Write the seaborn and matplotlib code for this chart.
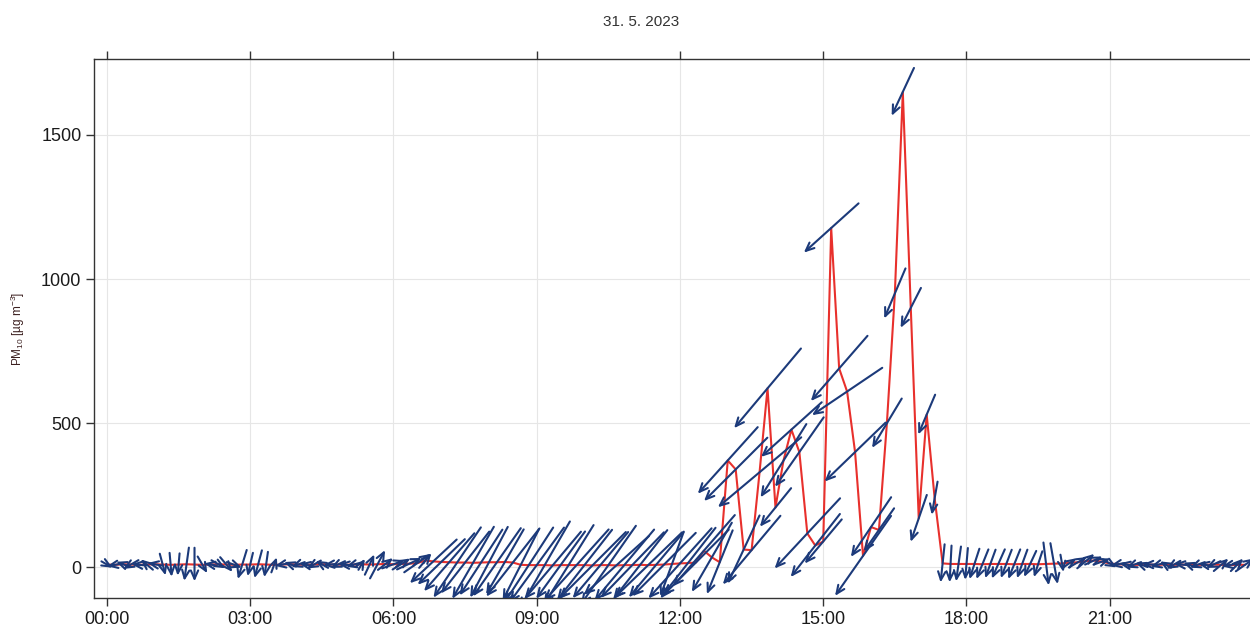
import numpy as np
import pandas as pd
import seaborn as sns
import matplotlib
matplotlib.use("Agg")
import matplotlib.pyplot as plt
import matplotlib.dates as mdates
from matplotlib.transforms import ScaledTranslation

# 10-minute data, 31 May 2023
times = pd.date_range("2023-05-31 00:00", periods=144, freq="10min")

pm10 = [10, 9, 11, 10, 9, 10,
        11, 10, 9, 10, 11, 10,
        9, 10, 11, 10, 9, 10,
        10, 11, 10, 9, 10, 11,
        10, 9, 10, 11, 10, 10,
        9, 10, 11, 10, 11, 12,
        11, 12, 13, 15, 24, 21,
        19, 18, 17, 17, 16, 17,
        18, 18, 19, 17, 9, 8,
        8, 8, 7, 8, 8, 8,
        8, 7, 8, 8, 7, 8,
        8, 9, 8, 9, 10, 12,
        14, 15, 17, 58, 35, 18,
        371, 340, 62, 60, 330, 621,
        208, 370, 478, 400, 118, 76,
        90, 1177, 690, 610, 400, 40,
        140, 130, 500, 950, 1649, 900,
        170, 530, 240, 14, 12, 12,
        12, 12, 11, 12, 12, 12,
        11, 12, 12, 11, 12, 13,
        14, 16, 18, 22, 24, 20,
        14, 11, 10, 9, 9, 10,
        9, 10, 9, 10, 9, 9,
        9, 10, 9, 8, 9, 9]

# wind speed [m/s]
ws = [0.8, 1.0, 0.9, 1.1, 0.9, 1.0,
      0.9, 1.4, 1.5, 1.4, 2.1, 2.1,
      1.2, 0.8, 1.0, 1.2, 1.0, 1.9,
      1.5, 1.8, 1.6, 1.0, 0.9, 0.8,
      0.9, 0.8, 1.0, 0.9, 0.8, 1.0,
      0.9, 1.0, 0.8, 1.4, 2.0, 1.2,
      1.5, 1.3, 1.7, 2.0, 1.2, 4.0,
      4.1, 4.8, 5.3, 4.9, 5.2, 4.9,
      5.0, 5.2, 4.7, 5.4, 5.0, 5.6,
      5.8, 6.3, 5.5, 5.2, 5.9, 6.0,
      5.6, 5.9, 5.4, 6.0, 5.5, 5.8,
      5.7, 5.5, 5.9, 5.3, 5.6, 4.3,
      5.9, 5.6, 5.8, 5.9, 5.0, 4.3,
      5.6, 5.6, 4.7, 5.6, 6.8, 6.5,
      3.1, 5.4, 5.1, 5.3, 6.0, 5.0,
      3.6, 4.6, 5.4, 5.3, 5.3, 6.1,
      4.5, 3.3, 3.6, 3.4, 3.3, 2.8,
      3.1, 2.7, 2.1, 2.4, 2.3, 2.2,
      2.0, 2.0, 2.0, 1.9, 2.0, 1.9,
      2.0, 1.9, 1.8, 1.7, 2.7, 2.6,
      1.1, 1.0, 1.3, 1.4, 1.2, 1.1,
      1.0, 0.9, 0.8, 1.0, 0.8, 0.9,
      0.9, 0.8, 1.0, 0.9, 0.8, 1.0,
      0.9, 1.0, 1.2, 0.9, 1.1, 1.4]

# wind direction [deg, from]
wd = [300, 80, 110, 60, 95, 130,
      100, 345, 355, 5, 8, 0,
      330, 100, 300, 320, 290, 17,
      13, 15, 8, 200, 80, 110,
      70, 100, 60, 120, 85, 65,
      95, 75, 210, 205, 208, 232,
      250, 238, 245, 235, 220, 47,
      46, 41, 34, 38, 30, 33,
      28, 35, 30, 38, 27, 33,
      36, 30, 40, 36, 32, 42,
      38, 45, 40, 35, 48, 40,
      44, 38, 46, 40, 45, 20,
      42, 38, 45, 41, 30, 22,
      42, 45, 25, 40, 50, 40,
      39, 32, 48, 35, 43, 38,
      40, 48, 41, 56, 46, 35,
      34, 35, 31, 23, 25, 27,
      19, 23, 10, 6, 3, 8,
      5, 18, 22, 20, 24, 21,
      22, 20, 25, 18, 353, 350,
      350, 235, 240, 230, 245, 250,
      300, 80, 100, 70, 110, 90,
      75, 120, 60, 95, 110, 70,
      100, 65, 230, 80, 225, 235]

d = pd.DataFrame({"date": times, "pm10": pm10, "ws": ws, "wd": wd})
d["u"] = -d["ws"] * np.sin(np.radians(d["wd"]))
d["v"] = -d["ws"] * np.cos(np.radians(d["wd"]))

sns.set_theme(style="whitegrid")
plt.rcParams["font.family"] = ["Liberation Sans", "DejaVu Sans"]
plt.rcParams["mathtext.fontset"] = "custom"
plt.rcParams["mathtext.rm"] = "Liberation Sans"
plt.rcParams["mathtext.it"] = "Liberation Sans:italic"

fig = plt.figure(figsize=(12.5, 6.33), dpi=100)
ax = fig.add_axes([94 / 1250, 35 / 633, 1164 / 1250, 539 / 633])

sns.lineplot(data=d, x="date", y="pm10", ax=ax, color="#e8302c", lw=1.5, zorder=2)

# wind arrows centred on each point, length in screen units (0.16 in per m/s)
k = 0.16
xs = mdates.date2num(d["date"])
for x, y, u, v in zip(xs, d["pm10"], d["u"], d["v"]):
    hx, hy = u * k / 2, v * k / 2
    head = ax.transData + ScaledTranslation(hx, hy, fig.dpi_scale_trans)
    tail = ax.transData + ScaledTranslation(-hx, -hy, fig.dpi_scale_trans)
    a = ax.annotate("", xy=(x, y), xycoords=head, xytext=(x, y), textcoords=tail,
                    arrowprops=dict(arrowstyle="->,head_length=0.5,head_width=0.22",
                                    color="#1c3a7a", lw=1.5, shrinkA=0, shrinkB=0),
                    annotation_clip=False, zorder=3)
    a.arrow_patch.set_clip_box(ax.bbox)

pad = 16.3 / 1440
ax.set_xlim(xs[0] - pad, xs[-1] + pad)
ax.set_ylim(-106, 1763)
ax.set_yticks([0, 500, 1000, 1500])
ax.set_xticks(xs[::18])
ax.xaxis.set_major_formatter(mdates.DateFormatter("%H:%M"))
ax.set_xlabel("")
ax.set_ylabel("")

ax.grid(True, color="#e6e6e6", lw=0.8)
ax.set_axisbelow(True)
for s in ax.spines.values():
    s.set_visible(True)
    s.set_color("#333333")
    s.set_linewidth(1.0)
ax.tick_params(direction="out", length=6, width=1, color="#333333",
               labelsize=13, labelcolor="#1a1a1a", pad=3,
               top=True, labeltop=False, left=True, bottom=True)

fig.text(641 / 1250, 1 - 22 / 633, "31. 5. 2023", fontsize=11,
         color="#333333", ha="center", va="center")
fig.text(18 / 1250, 1 - 329 / 633, r"PM$_{10}$ [µg m$^{-3}$]", fontsize=8.5,
         color="#3b1f1f", rotation=90, ha="center", va="center")

plt.savefig("out.png", dpi=100)
